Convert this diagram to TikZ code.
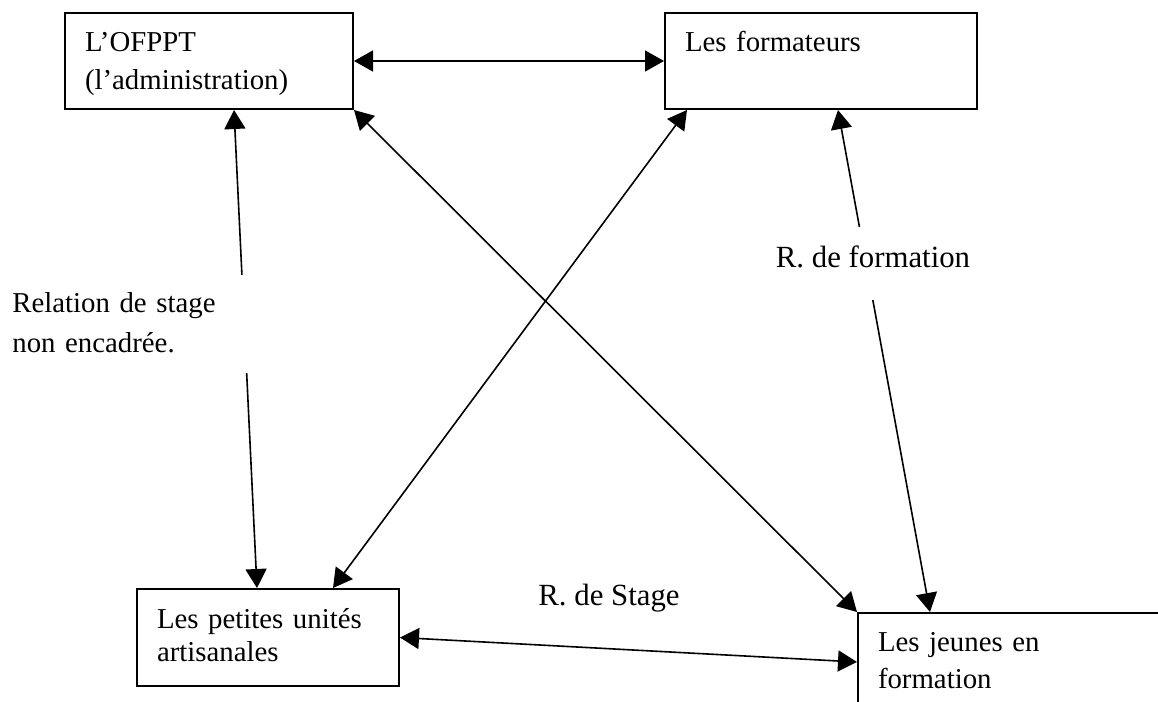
\documentclass[tikz,border=0pt]{standalone}
\usepackage{fontspec}
\setmainfont{Liberation Serif}
\usetikzlibrary{arrows.meta}
\begin{document}
\begin{tikzpicture}[x=1pt, y=-1pt, font=\fontsize{14.4}{19}\selectfont,
    box/.style={draw, line width=1pt, anchor=north west, align=left, inner xsep=10pt, inner ysep=0pt,
        text height=19pt, text depth=29pt},
    link/.style={line width=0.8pt, {Triangle[length=9.5pt,width=10.5pt]}-{Triangle[length=9.5pt,width=10.5pt]}},
    tag/.style={fill=white, inner sep=0pt, align=left}]
    \clip (0,0) rectangle (579,351);
    \node[box, text width=124pt] (ofppt) at (32,6) {L’OFPPT\\(l’administration)};
    \node[box, text width=136pt] (form) at (332,6) {Les formateurs};
    \node[box, text width=111pt, text height=19.5pt, font=\fontsize{14.4}{16.5}\selectfont] (pua) at (68,294)
        {Les petites unités\\artisanales};
    \node[box, text width=160pt, text depth=40pt, font=\fontsize{14.4}{18.5}\selectfont] (jeunes) at (428.5,306)
        {Les jeunes en\\formation};
    \draw[link] (ofppt.east) -- (form.west);
    \draw[link] ([xshift=12.5pt]ofppt.south) -- ([xshift=-5.5pt]pua.north);
    \draw[link] ([xshift=8.5pt]form.south) -- ([xshift=36.5pt]jeunes.north west);
    \draw[link] (ofppt.south east) -- (jeunes.north west);
    \draw[link] ([xshift=11.5pt]form.south west) -- ([xshift=-33.5pt]pua.north east);
    \draw[link] (pua.east) -- ([yshift=-25pt]jeunes.north west);
    \node[tag, anchor=north west, text width=118pt, inner xsep=4pt, text height=18.5pt, text depth=30.5pt,
        font=\fontsize{14.4}{20}\selectfont] (lstage) at (2,137.5) {Relation de stage\\non encadrée.};
    \node[tag, anchor=base, inner xsep=2pt, text height=20pt, text depth=16.5pt, font=\fontsize{15.4}{19}\selectfont]
        (lform) at (436.5,133.5) {R. de formation};
    \node[anchor=base, inner sep=0pt, font=\fontsize{15.4}{19}\selectfont] (lstg) at (304.5,302.5) {R. de Stage};
\end{tikzpicture}
\end{document}
